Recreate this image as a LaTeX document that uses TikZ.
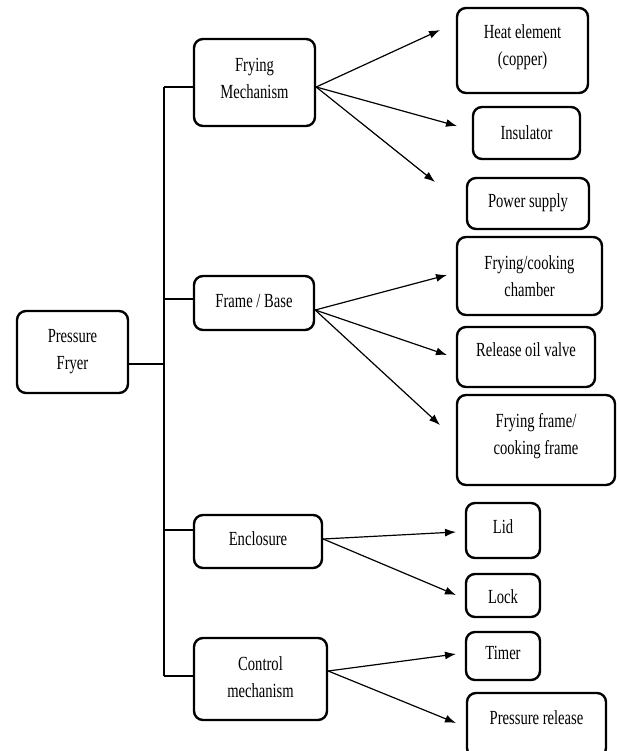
\documentclass[tikz,border=0pt]{standalone}
\usepackage{fontspec}
\setmainfont[FakeStretch=0.73]{Liberation Serif}
\usetikzlibrary{arrows.meta}
\begin{document}
\begin{tikzpicture}[x=1pt,y=-1pt,
 box/.style={draw, line width=2.4pt, rounded corners=9pt, inner sep=0pt},
 lbl/.style={inner sep=0pt, align=center, font=\fontsize{20}{27}\selectfont},
 link/.style={line width=1.3pt},
 arr/.style={line width=1.2pt, -{Latex[length=11pt,width=8pt]}}]
\useasboundingbox (0,0) rectangle (617,751);

% boxes
\node[box, minimum width=111pt, minimum height=82pt] (pf) at (72.5,352) {};
\node[box, minimum width=121pt, minimum height=87pt] (fm) at (254.5,82.5) {};
\node[box, minimum width=120pt, minimum height=54pt] (fb) at (254,303) {};
\node[box, minimum width=128pt, minimum height=53pt] (en) at (258,541.5) {};
\node[box, minimum width=133pt, minimum height=82pt] (cm) at (260.5,679) {};
\node[box, minimum width=131pt, minimum height=85pt] (he) at (522.5,50.5) {};
\node[box, minimum width=107pt, minimum height=52pt] (in) at (526.5,133) {};
\node[box, minimum width=122pt, minimum height=51pt] (ps) at (528,203.5) {};
\node[box, minimum width=145pt, minimum height=78pt] (cc) at (529.5,276) {};
\node[box, minimum width=138pt, minimum height=60pt] (ov) at (526,357) {};
\node[box, minimum width=158pt, minimum height=90pt] (ff) at (536,440) {};
\node[box, minimum width=74pt, minimum height=55pt] (li) at (503,530.5) {};
\node[box, minimum width=74pt, minimum height=43pt] (lo) at (503,595.5) {};
\node[box, minimum width=74pt, minimum height=48pt] (ti) at (503,656) {};
\node[box, minimum width=139pt, minimum height=64pt] (pr) at (536.5,725) {};

% texts
\node[lbl] (tpf) at (72.5,351.5) {Pressure\\Fryer};
\node[lbl] (tfm) at (254.5,78) {Frying\\Mechanism};
\node[lbl] (tfb) at (254,301) {Frame / Base};
\node[lbl] (ten) at (258,539) {Enclosure};
\node[lbl] (tcm) at (260.5,677.5) {Control\\mechanism};
\node[lbl] (the) at (522.5,47.5) {Heat element\\(copper)};
\node[lbl] (tin) at (526.5,133) {Insulator};
\node[lbl] (tps) at (528,203) {Power supply};
\node[lbl] (tcc) at (529.5,276.5) {Frying/cooking\\chamber};
\node[lbl] (tov) at (526,350) {Release oil valve};
\node[lbl] (tff) at (536,436.5) {Frying frame/\\cooking frame};
\node[lbl] (tli) at (503,527) {Lid};
\node[lbl] (tlo) at (503,597) {Lock};
\node[lbl] (tti) at (503,653) {Timer};
\node[lbl] (tpr) at (536.5,718) {Pressure release};

% trunk and branches
\coordinate (jfm) at (164,87);
\coordinate (jfb) at (164,299);
\coordinate (jpf) at (164,364);
\coordinate (jen) at (164,530);
\coordinate (jcm) at (164,676);
\draw[link] (jfm) -- (jcm);
\draw[link] (pf.east |- jpf) -- (jpf);
\draw[link] (jfm) -- (jfm -| fm.west);
\draw[link] (jfb) -- (jfb -| fb.west);
\draw[link] (jen) -- (jen -| en.west);
\draw[link] (jcm) -- (jcm -| cm.west);

% arrow origins
\coordinate (ofm) at (315,87);
\coordinate (ofb) at (315,310);
\coordinate (oen) at (322,539);
\coordinate (ocm) at (327,671);
% arrow ends
\coordinate (ahe) at (440,30);
\coordinate (ain) at (457,126);
\coordinate (aps) at (435,182);
\coordinate (acc) at (447,275);
\coordinate (aov) at (447,355);
\coordinate (aff) at (440,425);
\coordinate (ali) at (456,532);
\coordinate (alo) at (456,595);
\coordinate (ati) at (456,654);
\coordinate (apr) at (456,723);

\draw[arr] (fm.east |- ofm) -- (ahe);
\draw[arr] (fm.east |- ofm) -- (ain);
\draw[arr] (fm.east |- ofm) -- (aps);
\draw[arr] (fb.east |- ofb) -- (acc);
\draw[arr] (fb.east |- ofb) -- (aov);
\draw[arr] (fb.east |- ofb) -- (aff);
\draw[arr] (en.east |- oen) -- (ali);
\draw[arr] (en.east |- oen) -- (alo);
\draw[arr] (cm.east |- ocm) -- (ati);
\draw[arr] (cm.east |- ocm) -- (apr);
\end{tikzpicture}
\end{document}
